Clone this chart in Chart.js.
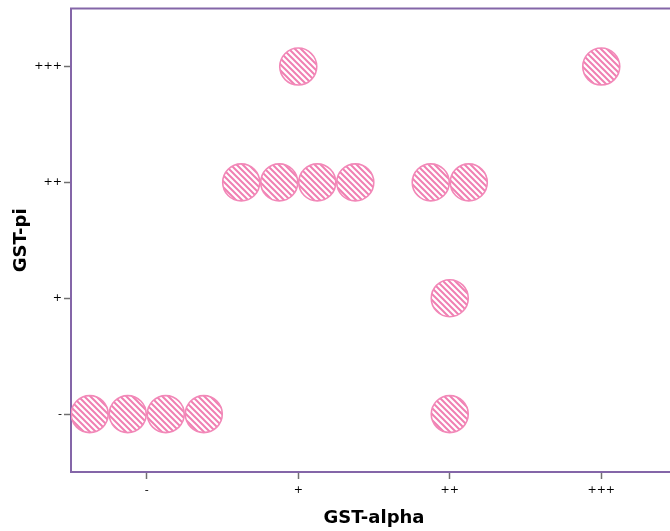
<!DOCTYPE html>
<html>
<head>
<meta charset="utf-8">
<script src="https://cdn.jsdelivr.net/npm/chart.js@4"></script>
<style>
  html, body { margin: 0; padding: 0; background: #fff; overflow: hidden; }
  #wrap { width: 670px; height: 531px; overflow: hidden; }
  canvas { display: block; }
</style>
</head>
<body>
<div id="wrap"><canvas id="c" width="680" height="531"></canvas></div>
<script>
// Ordinal levels shared by both axes
const levelLabels = ['-', '+', '++', '+++'];

// One entry per occupied cell: GST-alpha level, GST-pi level, number of cases
const alphaLevel = [0, 2, 2, 1, 2, 1, 3];
const piLevel    = [0, 0, 1, 2, 2, 3, 3];
const caseCount  = [4, 1, 1, 4, 2, 1, 1];

// Dots in the same cell are laid side by side, one dot width apart (in x units)
const DODGE = 0.251;

const points = [];
alphaLevel.forEach((ax, k) => {
  const n = caseCount[k];
  for (let i = 0; i < n; i++) {
    points.push({ x: ax + (i - (n - 1) / 2) * DODGE, y: piLevel[k] });
  }
});

// Diagonal hatch fill for the dots
function hatch() {
  const s = 6;
  const t = document.createElement('canvas');
  t.width = s; t.height = s;
  const g = t.getContext('2d');
  g.fillStyle = '#ffffff';
  g.fillRect(0, 0, s, s);
  g.strokeStyle = '#f07fb2';
  g.lineWidth = 2;
  g.beginPath();
  g.moveTo(-1, -1); g.lineTo(s + 1, s + 1);
  g.moveTo(-1, s - 1); g.lineTo(1, s + 1);
  g.moveTo(s - 1, -1); g.lineTo(s + 1, 1);
  g.stroke();
  return document.getElementById('c').getContext('2d').createPattern(t, 'repeat');
}

const frameColor = '#8466a8';

// Top edge of the plot frame
const topEdge = {
  id: 'topEdge',
  afterDraw(chart) {
    const { ctx, chartArea: a } = chart;
    ctx.save();
    ctx.strokeStyle = frameColor;
    ctx.lineWidth = 2;
    ctx.beginPath();
    ctx.moveTo(a.left - 1, a.top);
    ctx.lineTo(a.right, a.top);
    ctx.stroke();
    ctx.restore();
  }
};

const fixedTicks = scale => { scale.ticks = levelLabels.map((_, i) => ({ value: i })); };

new Chart(document.getElementById('c'), {
  type: 'scatter',
  data: {
    datasets: [{
      data: points,
      pointRadius: 18.5,
      pointHoverRadius: 18.5,
      pointBorderWidth: 1.6,
      pointBorderColor: '#f288b8',
      pointBackgroundColor: hatch()
    }]
  },
  options: {
    responsive: false,
    animation: false,
    events: [],
    layout: { autoPadding: false, padding: { top: 8, right: 3, left: 0, bottom: 0 } },
    plugins: { legend: { display: false }, tooltip: { enabled: false } },
    scales: {
      x: {
        type: 'linear',
        min: -0.5,
        max: 3.5,
        afterBuildTicks: fixedTicks,
        afterFit: s => { s.height = 59; },
        border: { display: true, color: frameColor, width: 2 },
        grid: { display: true, drawOnChartArea: false, drawTicks: true, tickLength: 7, tickWidth: 1.5, color: '#707070' },
        ticks: {
          padding: 5,
          color: '#000',
          font: { family: 'DejaVu Sans', size: 11 },
          maxRotation: 0,
          callback: v => levelLabels[v]
        },
        title: {
          display: true,
          text: 'GST-alpha',
          color: '#000',
          font: { family: 'DejaVu Sans', size: 18, weight: 'bold' },
          padding: { top: 0, bottom: 2 }
        }
      },
      y: {
        type: 'linear',
        min: -0.5,
        max: 3.5,
        afterBuildTicks: fixedTicks,
        afterFit: s => { s.width = 71; },
        border: { display: true, color: frameColor, width: 2 },
        grid: { display: true, drawOnChartArea: false, drawTicks: true, tickLength: 7, tickWidth: 1.5, color: '#707070' },
        ticks: {
          padding: 2,
          color: '#000',
          font: { family: 'DejaVu Sans', size: 11 },
          callback: v => levelLabels[v]
        },
        title: {
          display: true,
          text: 'GST-pi',
          color: '#000',
          font: { family: 'DejaVu Sans', size: 18, weight: 'bold' },
          padding: { top: 11, bottom: 0 }
        }
      }
    }
  },
  plugins: [topEdge]
});
</script>
</body>
</html>
